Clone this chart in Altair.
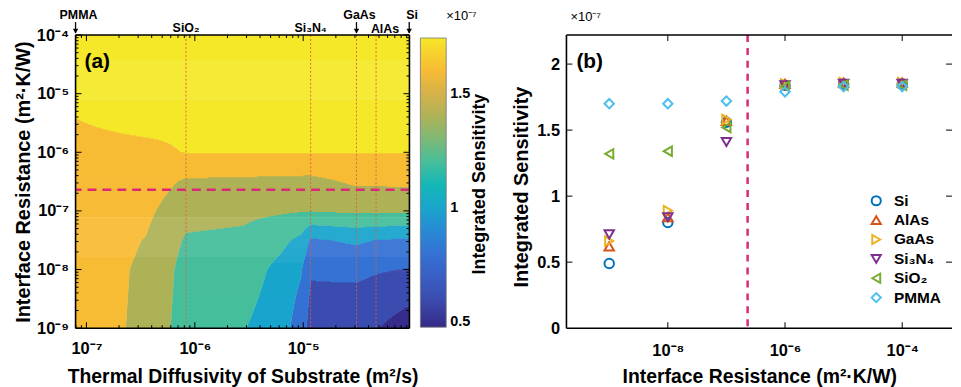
import altair as alt
import numpy as np
import pandas as pd

FONT = "Liberation Sans"

# ---------------- Panel (a): integrated sensitivity grid (x1e-7) ----------------
logD_cols = [-7.10, -6.45, -6.08, -5.55, -5.20, -5.02, -4.93, -4.51, -4.33, -4.02]   # log10 diffusivity (m2/s)
logR_rows = [-9.0, -8.5, -8.0, -7.5, -7.0, -6.5, -6.0, -5.0, -4.0]                    # log10 resistance
S_r90 = [1.70, 1.56, 1.30, 1.21, 1.08, 0.90, 0.72, 0.66, 0.61, 0.49]
S_r85 = [1.70, 1.565, 1.315, 1.255, 1.11, 0.954, 0.763, 0.742, 0.71, 0.634]
S_r80 = [1.70, 1.57, 1.33, 1.30, 1.14, 1.019, 0.822, 0.849, 0.818, 0.791]
S_r75 = [1.71, 1.593, 1.379, 1.36, 1.247, 1.152, 0.975, 1.031, 0.996, 0.971]
S_r70 = [1.72, 1.645, 1.463, 1.441, 1.421, 1.411, 1.406, 1.433, 1.433, 1.439]
S_r65 = [1.74, 1.707, 1.572, 1.561, 1.553, 1.548, 1.546, 1.632, 1.633, 1.635]
S_r60 = [1.765, 1.769, 1.805, 1.805, 1.805, 1.805, 1.805, 1.805, 1.805, 1.805]
S_r50 = [1.825, 1.89, 1.84, 1.84, 1.84, 1.84, 1.84, 1.84, 1.84, 1.84]
S_r40 = [1.83, 1.84, 1.85, 1.85, 1.85, 1.85, 1.85, 1.85, 1.85, 1.85]
contour_levels = [0.6, 0.8, 1.0, 1.2, 1.4, 1.6, 1.8]

mat_names = ["PMMA", "SiO\u2082", "Si\u2083N\u2084", "GaAs", "AlAs", "Si"]
mat_D = [7.94e-8, 8.3e-7, 1.17e-5, 3.1e-5, 4.7e-5, 9.5e-5]
R_threshold = 2.3e-7

# ---------------- Panel (b): integrated sensitivity vs interface resistance ----------------
R_values = [1e-9, 1e-8, 1e-7, 1e-6, 1e-5, 1e-4]
legend_names = ["Si", "AlAs", "GaAs", "Si\u2083N\u2084", "SiO\u2082", "PMMA"]
S_Si    = [0.49, 0.80, 1.56, 1.84, 1.85, 1.85]
S_AlAs  = [0.62, 0.84, 1.57, 1.85, 1.86, 1.86]
S_GaAs  = [0.66, 0.89, 1.58, 1.85, 1.86, 1.86]
S_Si3N4 = [0.71, 0.84, 1.41, 1.84, 1.85, 1.85]
S_SiO2  = [1.32, 1.34, 1.52, 1.83, 1.84, 1.84]
S_PMMA  = [1.70, 1.70, 1.72, 1.79, 1.83, 1.83]
series_colors = ["#0072BD", "#D95319", "#EDB120", "#7E2F8E", "#77AC30", "#4DBEEE"]
series_shapes = ["circle", "triangle-up", "triangle-right", "triangle-down", "triangle-left", "diamond"]

cmap = ["#352A87", "#3B4DB0", "#3A63CC", "#2F7ED8", "#1AA2D0", "#14B9B4",
        "#5AC091", "#A0B25C", "#D2B14C", "#FCBC32", "#F5E828"]
cbar_domain = [0.478, 1.743]

# ---------------- build filled-contour strips from the grid ----------------
Z = np.array([S_r90, S_r85, S_r80, S_r75, S_r70, S_r65, S_r60, S_r50, S_r40])
lc = np.array(logD_cols)
lr = np.array(logR_rows)
zmin = float(Z.min())


def level_of(z):
    v = zmin
    for L in contour_levels:
        if z >= L:
            v = L
    return v


nlines = 295
edges = np.linspace(lr[0], lr[-1], nlines + 1)
rows = []
for i in range(nlines):
    y0, y1 = edges[i], edges[i + 1]
    ym = 0.5 * (y0 + y1)
    zc = np.array([np.interp(ym, lr, Z[:, j]) for j in range(len(lc))])
    bps = [lc[0], lc[-1]]
    for j in range(len(lc) - 1):
        za, zb = zc[j], zc[j + 1]
        for L in contour_levels:
            if (za - L) * (zb - L) < 0:
                t = (L - za) / (zb - za)
                bps.append(lc[j] + t * (lc[j + 1] - lc[j]))
    bps = sorted(bps)
    segs = []
    for a, b in zip(bps[:-1], bps[1:]):
        if b - a < 1e-9:
            continue
        lv = level_of(np.interp(0.5 * (a + b), lc, zc))
        if segs and segs[-1][2] == lv:
            segs[-1][1] = b
        else:
            segs.append([a, b, lv])
    ytop = y1 + 0.5 * (y1 - y0) if i < nlines - 1 else y1
    for a, b, lv in segs:
        rows.append(dict(x=10 ** a, x2=10 ** b, y=10 ** y0, y2=10 ** ytop, lev=lv))
df_c = pd.DataFrame(rows)

W_A, H, W_B = 336, 295, 388
EXPR = "'10\u207b' + ['\u2070','\u00b9','\u00b2','\u00b3','\u2074','\u2075','\u2076','\u2077','\u2078','\u2079'][round(-log(datum.value)/LN10)]"

TICK_FS = 16.5
XT_FS = 19.5
YT_FS = 20

xs_a = alt.Scale(type="log", domain=[10 ** lc[0], 10 ** lc[-1]], nice=False)
ys_a = alt.Scale(type="log", domain=[1e-9, 1e-4], nice=False)

ax_a_x = alt.Axis(values=[1e-7, 1e-6, 1e-5], labelExpr=EXPR, ticks=False, domain=False, grid=False,
                  labelFlush=False, labelPadding=12, labelFontSize=TICK_FS, labelFontWeight="bold",
                  labelColor="black", title="Thermal Diffusivity of Substrate (m\u00b2/s)",
                  titleFontSize=XT_FS, titleFontWeight="bold", titleColor="black",
                  titleY=49, titleBaseline="middle")
ax_a_y = alt.Axis(values=[1e-9, 1e-8, 1e-7, 1e-6, 1e-5, 1e-4], labelExpr=EXPR, ticks=False,
                  domain=False, grid=False, labelPadding=7, labelFontSize=TICK_FS, labelFontWeight="bold",
                  labelColor="black", title="Interface Resistance (m\u00b2\u00b7K/W)",
                  titleFontSize=YT_FS, titleFontWeight="bold", titleColor="black",
                  titleX=-52, titleY=H / 2, titleAngle=270, titleBaseline="middle")

color_a = alt.Color("lev:Q", scale=alt.Scale(domain=cbar_domain, range=cmap, interpolate="rgb", clamp=True),
                    legend=alt.Legend(orient="none", legendX=W_A + 11, legendY=3, direction="vertical",
                                      gradientLength=291, gradientThickness=26, values=[0.5, 1, 1.5],
                                      format="~g", title=None, labelFontSize=14.5, labelFontWeight="bold",
                                      labelColor="black", labelOffset=4, padding=0,
                                      gradientStrokeColor="#777", gradientStrokeWidth=0.8))

contour = alt.Chart(df_c).mark_rect(strokeWidth=0).encode(
    x=alt.X("x:Q", scale=xs_a, axis=ax_a_x), x2="x2:Q",
    y=alt.Y("y:Q", scale=ys_a, axis=ax_a_y), y2="y2:Q",
    color=color_a,
)

df_mat = pd.DataFrame({"x": mat_D, "name": mat_names})
df_lines = df_mat.iloc[1:5]
vlines = alt.Chart(df_lines).mark_rule(color="#E0603A", strokeWidth=1, strokeDash=[2, 2], opacity=0.9).encode(
    x=alt.X("x:Q", scale=xs_a))
hline = alt.Chart(pd.DataFrame({"y": [R_threshold]})).mark_rule(
    color="#DC2878", strokeWidth=2.5, strokeDash=[9, 6]).encode(y=alt.Y("y:Q", scale=ys_a))

# ticks (inward, MATLAB style)
x_major_a = [1e-7, 1e-6, 1e-5]
x_minor_a = [k * 10.0 ** e for e in range(-8, -4) for k in range(2, 10)
             if 10 ** lc[0] < k * 10.0 ** e < 10 ** lc[-1]]
y_major_a = [1e-9, 1e-8, 1e-7, 1e-6, 1e-5, 1e-4]
y_minor_a = [k * 10.0 ** e for e in range(-9, -4) for k in range(2, 10)]


def xticks(vals, scale, length, w, h):
    d = pd.DataFrame({"x": vals})
    b = alt.Chart(d).mark_rule(color="black", strokeWidth=1).encode(
        x=alt.X("x:Q", scale=scale), y=alt.value(h), y2=alt.value(h - length))
    t = alt.Chart(d).mark_rule(color="black", strokeWidth=1).encode(
        x=alt.X("x:Q", scale=scale), y=alt.value(0), y2=alt.value(length))
    return [b, t]


def yticks(vals, scale, length, w, h, right=True):
    d = pd.DataFrame({"y": vals})
    out = [alt.Chart(d).mark_rule(color="black", strokeWidth=1).encode(
        y=alt.Y("y:Q", scale=scale), x=alt.value(0), x2=alt.value(length))]
    if right:
        out.append(alt.Chart(d).mark_rule(color="black", strokeWidth=1).encode(
            y=alt.Y("y:Q", scale=scale), x=alt.value(w - length), x2=alt.value(w)))
    return out


one = pd.DataFrame({"k": [0]})


def border(w, h, sides):
    out = []
    if "top" in sides:
        out.append(alt.Chart(one).mark_rule(color="black", strokeWidth=1.6).encode(
            x=alt.value(0), x2=alt.value(w), y=alt.value(0)))
    if "bottom" in sides:
        out.append(alt.Chart(one).mark_rule(color="black", strokeWidth=1.6).encode(
            x=alt.value(0), x2=alt.value(w), y=alt.value(h)))
    if "left" in sides:
        out.append(alt.Chart(one).mark_rule(color="black", strokeWidth=1.6).encode(
            y=alt.value(0), y2=alt.value(h), x=alt.value(0)))
    if "right" in sides:
        out.append(alt.Chart(one).mark_rule(color="black", strokeWidth=1.6).encode(
            y=alt.value(0), y2=alt.value(h), x=alt.value(w)))
    return out


def text(s, x, y, size, weight="bold", align="left", angle=0):
    return alt.Chart(pd.DataFrame({"t": [s]})).mark_text(
        font=FONT, fontSize=size, fontWeight=weight, align=align, baseline="middle",
        color="black", angle=angle).encode(text="t:N", x=alt.value(x), y=alt.value(y))


# material labels on top of panel (a)
df_arrow = df_mat[df_mat["name"].isin(["PMMA", "GaAs", "Si"])]
df_plain = df_mat[df_mat["name"].isin(["SiO\u2082", "Si\u2083N\u2084"])]
df_alas = df_mat[df_mat["name"] == "AlAs"]
lab_style = dict(font=FONT, fontSize=12.5, fontWeight="bold", color="black", baseline="middle")
lab_top = alt.Chart(df_arrow).mark_text(align="center", dx=3, **lab_style).encode(
    x=alt.X("x:Q", scale=xs_a), y=alt.value(-20), text="name:N")
lab_low = alt.Chart(df_plain).mark_text(align="center", dx=0, **lab_style).encode(
    x=alt.X("x:Q", scale=xs_a), y=alt.value(-7), text="name:N")
lab_alas = alt.Chart(df_alas).mark_text(align="center", dx=9, **lab_style).encode(
    x=alt.X("x:Q", scale=xs_a), y=alt.value(-6), text="name:N")
arrow_shaft = alt.Chart(df_arrow).mark_rule(color="black", strokeWidth=1.3).encode(
    x=alt.X("x:Q", scale=xs_a), y=alt.value(-13), y2=alt.value(-2))
arrow_head = alt.Chart(df_arrow).mark_point(shape="triangle-down", filled=True, color="black",
                                            size=30, opacity=1).encode(
    x=alt.X("x:Q", scale=xs_a), y=alt.value(-4))

layers_a = [contour, vlines, hline]
layers_a += xticks(x_major_a, xs_a, 6, W_A, H) + xticks(x_minor_a, xs_a, 3, W_A, H)
layers_a += yticks(y_major_a, ys_a, 6, W_A, H) + yticks(y_minor_a, ys_a, 3, W_A, H)
layers_a += border(W_A, H, ["top", "bottom", "left", "right"])
layers_a += [lab_top, lab_low, lab_alas, arrow_shaft, arrow_head,
             text("(a)", 9, 27, 21),
             text("\u00d710\u207b\u2077", 373, -19, 13, weight="normal"),
             text("Integrated Sensitivity", 407, 150, 18, align="center", angle=270)]

panel_a = alt.layer(*layers_a).properties(width=W_A, height=H)

# ---------------- Panel (b) ----------------
pts_rows = []
for name, vals in zip(legend_names, [S_Si, S_AlAs, S_GaAs, S_Si3N4, S_SiO2, S_PMMA]):
    for r, s in zip(R_values, vals):
        pts_rows.append(dict(x=r, y=s, mat=name))
df_b = pd.DataFrame(pts_rows)

xs_b = alt.Scale(type="log", domain=[10 ** -9.73, 10 ** -3.15], nice=False)
ys_b = alt.Scale(domain=[0, 2.22], nice=False, zero=False)
ax_b_x = alt.Axis(values=[1e-8, 1e-6, 1e-4], labelExpr=EXPR, ticks=False, domain=False, grid=False,
                  labelFlush=False, labelPadding=14, labelFontSize=TICK_FS, labelFontWeight="bold",
                  labelColor="black", title="Interface Resistance (m\u00b2\u00b7K/W)",
                  titleFontSize=XT_FS, titleFontWeight="bold", titleColor="black",
                  titleY=49, titleBaseline="middle")
ax_b_y = alt.Axis(values=[0, 0.5, 1, 1.5, 2], format="~g", ticks=False, domain=False, grid=False,
                  labelPadding=7, labelFontSize=TICK_FS, labelFontWeight="bold", labelColor="black",
                  title="Integrated Sensitivity", titleFontSize=YT_FS, titleFontWeight="bold",
                  titleColor="black", titleX=-45, titleY=H / 2 + 5, titleAngle=270, titleBaseline="middle")
leg_b = dict(orient="none", legendX=304, legendY=159, title=None, labelFontSize=15.5,
             labelFontWeight="bold", labelColor="black", labelFont=FONT, symbolSize=85,
             symbolStrokeWidth=2, rowPadding=1.5, padding=0, labelOffset=10)

points = alt.Chart(df_b).mark_point(filled=False, size=90, strokeWidth=2, opacity=1).encode(
    x=alt.X("x:Q", scale=xs_b, axis=ax_b_x),
    y=alt.Y("y:Q", scale=ys_b, axis=ax_b_y),
    color=alt.Color("mat:N", scale=alt.Scale(domain=legend_names, range=series_colors),
                    legend=alt.Legend(**leg_b)),
    shape=alt.Shape("mat:N", scale=alt.Scale(domain=legend_names, range=series_shapes),
                    legend=alt.Legend(**leg_b)),
)
vline_b = alt.Chart(pd.DataFrame({"x": [R_threshold]})).mark_rule(
    color="#DC2878", strokeWidth=2.5, strokeDash=[7, 6]).encode(x=alt.X("x:Q", scale=xs_b))

x_major_b = [1e-8, 1e-6, 1e-4]
y_major_b = [0.5, 1, 1.5, 2]
layers_b = [vline_b, points]
layers_b += xticks(x_major_b, xs_b, 6, W_B, H)
layers_b += yticks(y_major_b, ys_b, 6, W_B, H)
layers_b += border(W_B, H, ["top", "bottom", "left"])
layers_b += [text("(b)", 10, 27, 21), text("\u00d710\u207b\u2077", 4, -18, 13, weight="normal")]

panel_b = alt.layer(*layers_b).properties(width=W_B, height=H)

chart = alt.hconcat(panel_a, panel_b, spacing=158, bounds="flush").resolve_scale(
    x="independent", y="independent", color="independent", shape="independent"
).resolve_legend(color="independent", shape="independent").properties(
    padding={"left": 5, "top": 0, "right": 0, "bottom": 0}
).configure(font=FONT).configure_view(stroke=None)

chart.save("out.html", embed_options={"renderer": "svg", "actions": False})
